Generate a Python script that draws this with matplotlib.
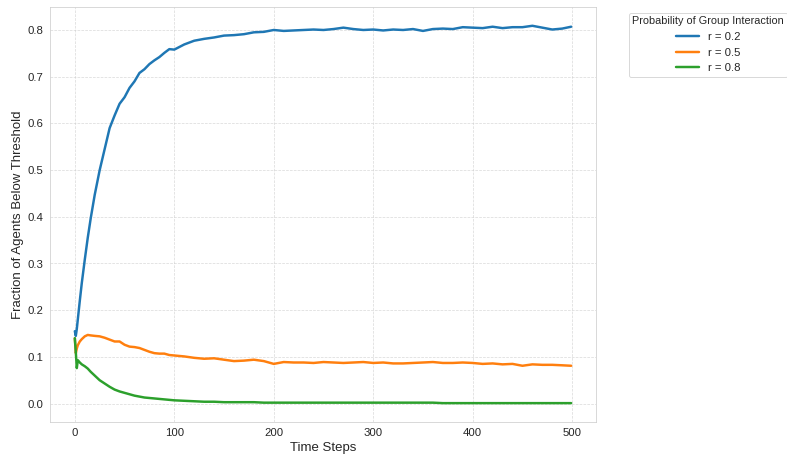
import numpy as np
import matplotlib
matplotlib.use("Agg")
import matplotlib.pyplot as plt
import seaborn as sns

# time steps at which the fractions were recorded
steps = [0, 1, 2, 3, 5, 7, 10, 13, 16, 20, 25, 30, 35, 40, 45, 50, 55, 60, 65, 70,
         75, 80, 85, 90, 95, 100, 110, 120, 130, 140, 150, 160, 170, 180, 190, 200,
         210, 220, 230, 240, 250, 260, 270, 280, 290, 300, 310, 320, 330, 340, 350,
         360, 370, 380, 390, 400, 410, 420, 430, 440, 450, 460, 470, 480, 490, 499]

frac_r02 = [0.155, 0.145, 0.160, 0.180, 0.220, 0.258, 0.308, 0.355, 0.397, 0.447,
            0.500, 0.545, 0.590, 0.617, 0.642, 0.656, 0.676, 0.690, 0.708, 0.716,
            0.727, 0.735, 0.742, 0.751, 0.759, 0.758, 0.769, 0.777, 0.781, 0.784,
            0.788, 0.789, 0.791, 0.795, 0.796, 0.800, 0.798, 0.799, 0.800, 0.801,
            0.800, 0.802, 0.805, 0.802, 0.800, 0.801, 0.799, 0.801, 0.800, 0.802,
            0.798, 0.802, 0.803, 0.802, 0.806, 0.805, 0.804, 0.807, 0.804, 0.806,
            0.806, 0.809, 0.805, 0.801, 0.803, 0.807]

frac_r05 = [0.140, 0.108, 0.118, 0.125, 0.133, 0.138, 0.144, 0.147, 0.146, 0.145,
            0.144, 0.141, 0.137, 0.133, 0.133, 0.126, 0.122, 0.121, 0.119, 0.115,
            0.111, 0.108, 0.107, 0.107, 0.104, 0.103, 0.101, 0.098, 0.096, 0.097,
            0.094, 0.091, 0.092, 0.094, 0.091, 0.085, 0.089, 0.088, 0.088, 0.087,
            0.089, 0.088, 0.087, 0.088, 0.089, 0.087, 0.088, 0.086, 0.086, 0.087,
            0.088, 0.089, 0.087, 0.087, 0.088, 0.087, 0.085, 0.086, 0.084, 0.085,
            0.081, 0.084, 0.083, 0.083, 0.082, 0.081]

frac_r08 = [0.140, 0.110, 0.076, 0.093, 0.088, 0.084, 0.080, 0.075, 0.068, 0.060,
            0.050, 0.043, 0.036, 0.030, 0.026, 0.023, 0.020, 0.017, 0.015, 0.013,
            0.012, 0.011, 0.010, 0.009, 0.008, 0.007, 0.006, 0.005, 0.004, 0.004,
            0.003, 0.003, 0.003, 0.003, 0.002, 0.002, 0.002, 0.002, 0.002, 0.002,
            0.002, 0.002, 0.002, 0.002, 0.002, 0.002, 0.002, 0.002, 0.002, 0.002,
            0.002, 0.002, 0.001, 0.001, 0.001, 0.001, 0.001, 0.001, 0.001, 0.001,
            0.001, 0.001, 0.001, 0.001, 0.001, 0.001]

series = {"r = 0.2": frac_r02, "r = 0.5": frac_r05, "r = 0.8": frac_r08}
colors = ["#1f77b4", "#ff7f0e", "#2ca02c"]

sns.set_style("whitegrid")
plt.rcParams["font.family"] = ["Liberation Sans", "DejaVu Sans"]

fig = plt.figure(figsize=(12, 7), dpi=787 / 12)
ax = fig.add_axes([50 / 787, 37 / 459, 546 / 787, 415 / 459])

for (label, values), c in zip(series.items(), colors):
    ax.plot(steps, values, color=c, linewidth=2.7, label=label)

ax.set_xlabel("Time Steps", fontsize=14.5, color="#262626")
ax.set_ylabel("Fraction of Agents Below Threshold", fontsize=14.5, color="#262626")
ax.tick_params(labelsize=12.5, colors="#262626")
ax.grid(True, linestyle="--", alpha=0.7)
ax.set_xticks([0, 100, 200, 300, 400, 500])

# legend sits outside the axes, to the right
leg = ax.legend(title="Probability of Group Interaction", loc="upper left",
                bbox_to_anchor=(629 / 787, 1 - 13 / 459), bbox_transform=fig.transFigure,
                borderaxespad=0, borderpad=0.3, fontsize=12.5, title_fontsize=12)

fig.savefig("out.png", dpi=787 / 12)
